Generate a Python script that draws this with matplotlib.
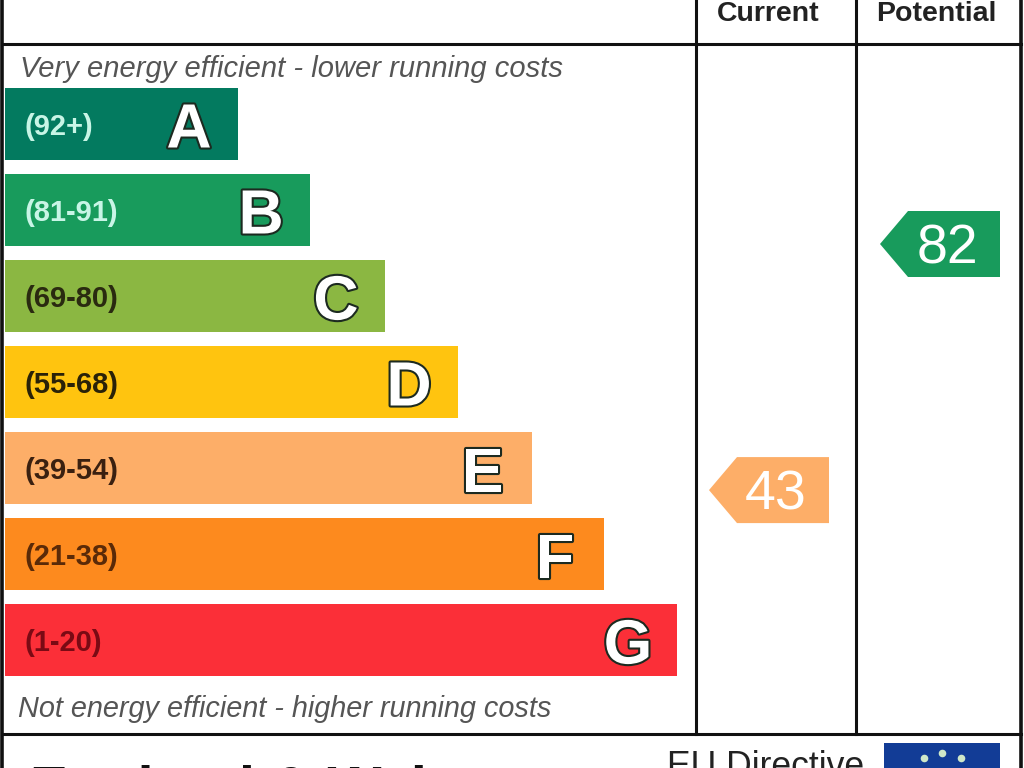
import matplotlib
matplotlib.use('Agg')
import matplotlib.pyplot as plt
import matplotlib.patheffects as pe
import numpy as np

bands = ['A', 'B', 'C', 'D', 'E', 'F', 'G']
ranges = ['(92+)', '(81-91)', '(69-80)', '(55-68)', '(39-54)', '(21-38)', '(1-20)']
bar_ends = [238, 310, 385, 458, 532, 604, 677]
colors = ['#037a5f', '#189b5c', '#8bb742', '#ffc40f', '#fdae68', '#fd8a1e', '#fb2f38']
range_colors = ['#c8f5e6', '#c8f5e6', '#2a2a10', '#2a2208', '#3a2010', '#5a2a08', '#7a0a14']

current = 43
potential = 82
current_color = '#fdae68'
potential_color = '#189b5c'

plt.rcParams['font.family'] = ['Liberation Sans', 'DejaVu Sans']

fig = plt.figure(figsize=(10.24, 7.68), dpi=100)
ax = fig.add_axes([0, 0, 1, 1])
ax.set_xlim(0, 1024)
ax.set_ylim(768, 0)
ax.axis('off')

# frame
ax.plot([2, 2], [0, 768], color='#111111', lw=2.6)
ax.plot([1021, 1021], [0, 768], color='#111111', lw=2.6)
ax.plot([2, 1021], [44, 44], color='#111111', lw=2.2)
ax.plot([2, 1021], [734, 734], color='#111111', lw=2.2)
ax.plot([696, 696], [0, 734], color='#111111', lw=2.2)
ax.plot([856, 856], [0, 734], color='#111111', lw=2.2)

ax.text(768, 14, 'Current', ha='center', va='center', fontsize=20.5, fontweight='bold', color='#222222')
ax.text(936, 14, 'Potential', ha='center', va='center', fontsize=20.5, fontweight='bold', color='#222222')

ax.text(20, 69, 'Very energy efficient - lower running costs', ha='left', va='center',
        fontsize=21, style='italic', color='#555555')
ax.text(18, 709, 'Not energy efficient - higher running costs', ha='left', va='center',
        fontsize=20.8, style='italic', color='#555555')

# bands
ypos = 124 + 86 * np.arange(len(bands))
ax.barh(ypos, np.array(bar_ends) - 5, left=5, height=72, color=colors)
for i in range(len(bands)):
    ax.text(25, ypos[i] + 3, ranges[i], ha='left', va='center', fontsize=21, fontweight='bold',
            color=range_colors[i])
    t = ax.text(bar_ends[i] - 49, ypos[i] + 7, bands[i], ha='center', va='center', fontsize=45,
                fontweight='bold', color='white')
    t.set_path_effects([pe.withStroke(linewidth=3, foreground='#1c2a20')])


def score_arrow(score, x_tip, color):
    # vertical place follows the score
    y = 244 + (82 - score) * 6.31
    xs = [x_tip, x_tip + 28, x_tip + 120, x_tip + 120, x_tip + 28]
    ys = [y, y - 33, y - 33, y + 33, y + 33]
    ax.fill(xs, ys, color=color, lw=0)
    ax.text(x_tip + 67, y + 5, str(score), ha='center', va='center', fontsize=40, color='white')


score_arrow(current, 709, current_color)
score_arrow(potential, 880, potential_color)

# footer, cut off by the bottom edge
ax.text(30, 765, 'England & Wales', ha='left', va='top', fontsize=41, fontweight='bold', color='#111111')
ax.text(667, 750, 'EU Directive', ha='left', va='top', fontsize=25.6, color='#222222')
ax.bar(942, 60, bottom=743, width=116, color='#123c96')
angles = np.arange(12) * 2 * np.pi / 12
ax.scatter(942 + 37 * np.sin(angles), 790 - 37 * np.cos(angles), marker='o', s=30, color='#cfe8c8', lw=0)

fig.savefig('out.png', dpi=100)
